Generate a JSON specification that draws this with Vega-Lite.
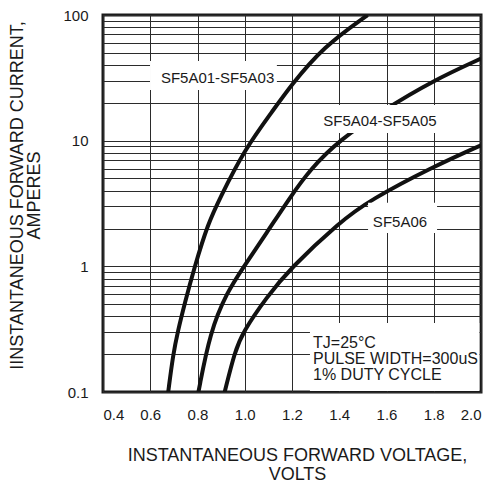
{
  "$schema": "https://vega.github.io/schema/vega-lite/v6.json",
  "autosize": "none",
  "width": 378,
  "height": 377,
  "padding": {"left": 103, "top": 15, "right": 9, "bottom": 92},
  "background": "white",
  "config": {
    "view": {"stroke": "#1a1a1a", "strokeWidth": 3},
    "font": "Liberation Sans",
    "axis": {
      "domain": false,
      "ticks": false,
      "grid": true,
      "gridColor": "#2b2b2b",
      "gridWidth": 1,
      "gridOpacity": 1,
      "labelFont": "Liberation Sans",
      "labelFontSize": 15,
      "labelColor": "#1a1a1a",
      "titleFont": "Liberation Sans",
      "titleFontSize": 18,
      "titleFontWeight": "normal",
      "titleColor": "#1a1a1a",
      "titleLineHeight": 19
    }
  },
  "datasets": {
    "curves": [
      {"series": "SF5A01-SF5A03", "v": 0.676, "i": 0.1},
      {"series": "SF5A01-SF5A03", "v": 0.697, "i": 0.2},
      {"series": "SF5A01-SF5A03", "v": 0.716, "i": 0.3},
      {"series": "SF5A01-SF5A03", "v": 0.745, "i": 0.5},
      {"series": "SF5A01-SF5A03", "v": 0.788, "i": 1.0},
      {"series": "SF5A01-SF5A03", "v": 0.845, "i": 2.2},
      {"series": "SF5A01-SF5A03", "v": 0.892, "i": 3.4},
      {"series": "SF5A01-SF5A03", "v": 0.997, "i": 8.4},
      {"series": "SF5A01-SF5A03", "v": 1.121, "i": 17.5},
      {"series": "SF5A01-SF5A03", "v": 1.192, "i": 27},
      {"series": "SF5A01-SF5A03", "v": 1.333, "i": 56},
      {"series": "SF5A01-SF5A03", "v": 1.52, "i": 100},
      {"series": "SF5A04-SF5A05", "v": 0.804, "i": 0.1},
      {"series": "SF5A04-SF5A05", "v": 0.853, "i": 0.3},
      {"series": "SF5A04-SF5A05", "v": 0.924, "i": 0.62},
      {"series": "SF5A04-SF5A05", "v": 0.997, "i": 1.0},
      {"series": "SF5A04-SF5A05", "v": 1.093, "i": 1.85},
      {"series": "SF5A04-SF5A05", "v": 1.19, "i": 3.5},
      {"series": "SF5A04-SF5A05", "v": 1.276, "i": 5.9},
      {"series": "SF5A04-SF5A05", "v": 1.403, "i": 10.2},
      {"series": "SF5A04-SF5A05", "v": 1.587, "i": 17.5},
      {"series": "SF5A04-SF5A05", "v": 1.796, "i": 30},
      {"series": "SF5A04-SF5A05", "v": 2.0, "i": 45},
      {"series": "SF5A06", "v": 0.915, "i": 0.1},
      {"series": "SF5A06", "v": 0.958, "i": 0.21},
      {"series": "SF5A06", "v": 0.992, "i": 0.3},
      {"series": "SF5A06", "v": 1.093, "i": 0.57},
      {"series": "SF5A06", "v": 1.192, "i": 0.96},
      {"series": "SF5A06", "v": 1.403, "i": 2.26},
      {"series": "SF5A06", "v": 1.53, "i": 3.37},
      {"series": "SF5A06", "v": 1.796, "i": 6.2},
      {"series": "SF5A06", "v": 2.0, "i": 9.2}
    ],
    "boxes": [
      {"v1": 0.599, "v2": 1.136, "i1": 25.3, "i2": 43},
      {"v1": 1.323, "v2": 1.822, "i1": 11.5, "i2": 19.2},
      {"v1": 1.522, "v2": 1.814, "i1": 1.84, "i2": 3.2},
      {"v1": 1.276, "v2": 1.993, "i1": 0.1018, "i2": 0.354}
    ],
    "labels": [
      {"v": 0.885, "i": 31.6, "label": "SF5A01-SF5A03"},
      {"v": 1.5725, "i": 14.4, "label": "SF5A04-SF5A05"},
      {"v": 1.657, "i": 2.265, "label": "SF5A06"}
    ],
    "notes": [
      {"v": 1.289, "i": 0.2455, "label": "TJ=25°C\nPULSE WIDTH=300uS\n1% DUTY CYCLE"}
    ]
  },
  "layer": [
    {
      "data": {"name": "curves"},
      "mark": {"type": "line", "interpolate": "basis", "strokeWidth": 4, "color": "#111111", "clip": true},
      "encoding": {
        "x": {
          "field": "v", "type": "quantitative",
          "scale": {"domain": [0.4, 2.0], "nice": false, "zero": false},
          "axis": {
            "values": [0.4, 0.6, 0.8, 1.0, 1.2, 1.4, 1.6, 1.8, 2.0],
            "format": ".1f",
            "labelPadding": 15,
            "title": ["INSTANTANEOUS FORWARD VOLTAGE,", "VOLTS"],
            "titleX": 194,
            "titleY": 54,
            "titleBaseline": "top"
          }
        },
        "y": {
          "field": "i", "type": "quantitative",
          "scale": {"type": "log", "domain": [0.1, 100], "nice": false},
          "axis": {
            "values": [0.1, 0.2, 0.3, 0.4, 0.5, 0.6, 0.7, 0.8, 0.9, 1, 2, 3, 4, 5, 6, 7, 8, 9, 10, 20, 30, 40, 50, 60, 70, 80, 90, 100],
            "format": "~g",
            "labelExpr": "datum.value == 0.1 || datum.value == 1 || datum.value == 10 || datum.value == 100 ? datum.label : ''",
            "labelPadding": 15,
            "title": ["IINSTANTANEOUS FORWARD CURRENT,", "AMPERES"],
            "titleX": -95,
            "titleY": 180,
            "titleAngle": -90,
            "titleAlign": "center",
            "titleBaseline": "top",
            "titleLineHeight": 17.5
          }
        },
        "detail": {"field": "series", "type": "nominal"}
      }
    },
    {
      "data": {"name": "boxes"},
      "mark": {"type": "rect", "fill": "white", "stroke": null},
      "encoding": {
        "x": {"field": "v1", "type": "quantitative"},
        "x2": {"field": "v2"},
        "y": {"field": "i1", "type": "quantitative"},
        "y2": {"field": "i2"}
      }
    },
    {
      "data": {"name": "labels"},
      "mark": {"type": "text", "font": "Liberation Sans", "fontSize": 15, "color": "#1a1a1a", "align": "center", "baseline": "middle"},
      "encoding": {
        "x": {"field": "v", "type": "quantitative"},
        "y": {"field": "i", "type": "quantitative"},
        "text": {"field": "label", "type": "nominal"}
      }
    },
    {
      "data": {"name": "notes"},
      "mark": {"type": "text", "font": "Liberation Sans", "fontSize": 16, "color": "#1a1a1a", "align": "left", "baseline": "middle", "lineBreak": "\n", "lineHeight": 16},
      "encoding": {
        "x": {"field": "v", "type": "quantitative"},
        "y": {"field": "i", "type": "quantitative"},
        "text": {"field": "label", "type": "nominal"}
      }
    }
  ]
}
